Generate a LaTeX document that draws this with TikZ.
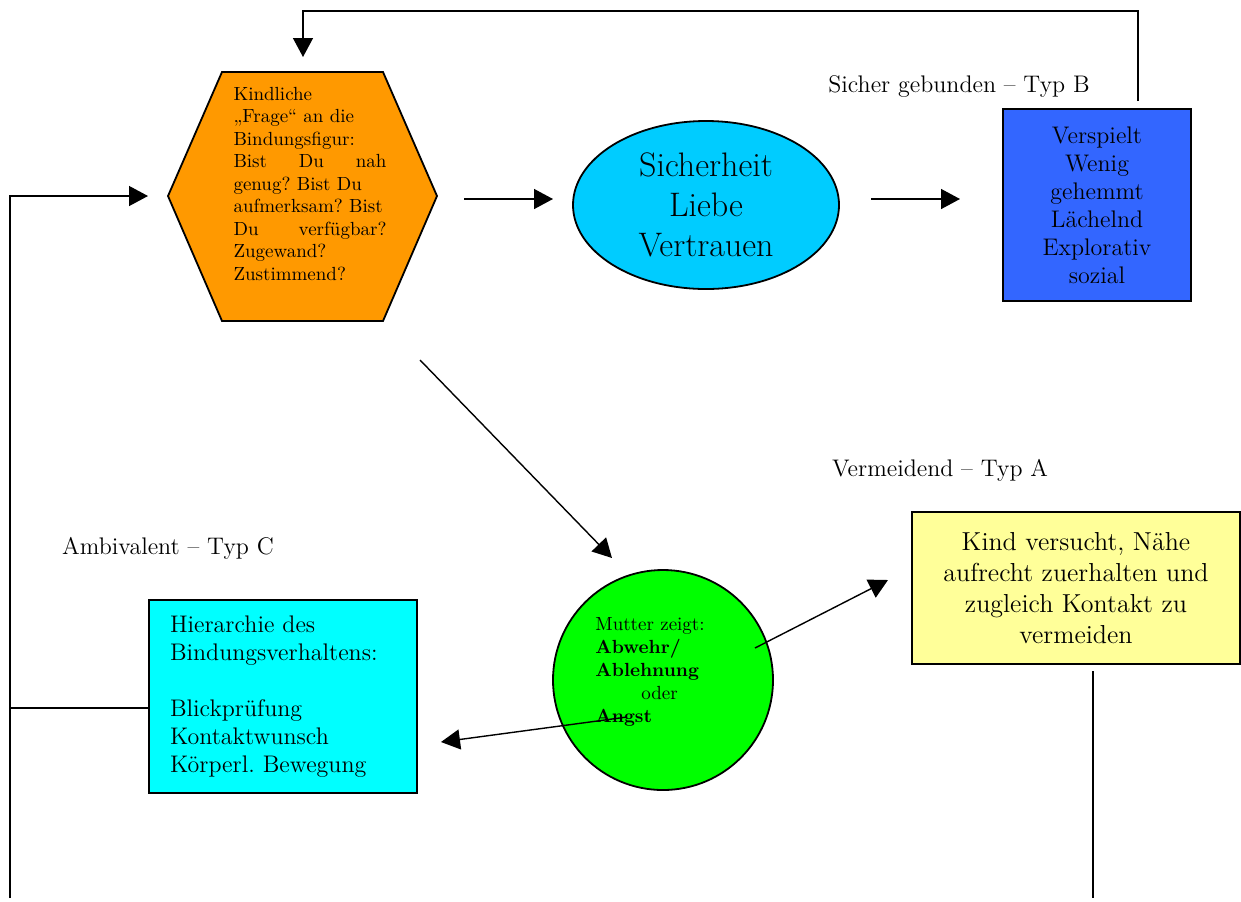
\documentclass[tikz,border=0pt]{standalone}
\usepackage{fontspec}
\usetikzlibrary{arrows.meta,shapes.geometric}
\definecolor{hexorange}{HTML}{FF9900}
\definecolor{ellblue}{HTML}{00CCFF}
\definecolor{boxblue}{HTML}{3366FF}
\definecolor{circgreen}{HTML}{00FF00}
\definecolor{boxcyan}{HTML}{00FFFF}
\definecolor{boxyellow}{HTML}{FFFF99}
\frenchspacing
\begin{document}
\begin{tikzpicture}[x=0.5pt,y=-0.5pt,line width=0.7pt,
  pfeil/.style={-{Triangle[length=9.5pt,width=10pt]}},
  kasten/.style={draw,line width=0.9pt,rectangle,inner sep=0pt},
  typ/.style={font=\fontsize{12}{14}\selectfont}]
\useasboundingbox (0,0) rectangle (1241,901);
\draw[fill=hexorange,line width=0.9pt] (222,72)--(383,72)--(437,196)--(383,321)--(222,321)--(168,196)--cycle;
\node[text width=76.5pt,align=left,inner sep=0pt,font=\fontsize{9.5}{11.25}\selectfont] (H) at (310,184)
  {Kindliche\\„Frage“ an die\\Bindungsfigur:\\Bist\hspace{\fill}Du\hspace{\fill}nah\\genug? Bist Du\\aufmerksam? Bist\\Du\hspace{\fill}verfügbar?\\Zugewand?\\Zustimmend?};
\node[draw,ellipse,fill=ellblue,line width=0.9pt,minimum width=133pt,minimum height=84pt,inner sep=0pt,
  align=center,font=\fontsize{17}{20}\selectfont] (E) at (706,205) {Sicherheit\\Liebe\\Vertrauen};
\node[kasten,fill=boxblue,minimum width=94pt,minimum height=96pt,align=center,
  font=\fontsize{12}{14}\selectfont] (B) at (1097,205) {Verspielt\\Wenig\\gehemmt\\Lächelnd\\Explorativ\\sozial};
\node[typ] (TB) at (959,87) {Sicher gebunden -- Typ B};
\node[typ] (TA) at (940,470) {Vermeidend -- Typ A};
\node[typ] (TC) at (168,548) {Ambivalent -- Typ C};
\node[draw,circle,fill=circgreen,line width=0.9pt,minimum size=110pt,inner sep=0pt] (M) at (663,680) {};
\node[align=left,inner sep=0pt,font=\fontsize{9.5}{11.5}\selectfont] (MT) at (650,672)
  {Mutter zeigt:\\\textbf{Abwehr/}\\\textbf{Ablehnung}\\\hspace{23pt}oder\\\textbf{Angst}};
\node[kasten,fill=boxcyan,minimum width=134pt,minimum height=96.5pt] (C) at (283,696.5) {};
\node[text width=113pt,align=left,inner sep=0pt,font=\fontsize{12}{14}\selectfont] (CT) at (C)
  {Hierarchie des\\Bindungsverhaltens:\\[14pt]Blickprüfung\\Kontaktwunsch\\Körperl. Bewegung};
\node[kasten,fill=boxyellow,minimum width=164pt,minimum height=76pt,align=center,
  font=\fontsize{13}{15.5}\selectfont] (Y) at (1076,588) {Kind versucht, Nähe\\aufrecht zuerhalten und\\zugleich Kontakt zu\\vermeiden};
\coordinate (lu) at (10,898);
\coordinate (lo) at (10,196);
\coordinate (hexein) at (148,196);
\coordinate (lm) at (10,708);
\coordinate (a1) at (464,199);
\coordinate (a2) at (553,199);
\coordinate (b1) at (871,199);
\coordinate (b2) at (960,199);
\coordinate (r1) at (1138,101);
\coordinate (r2) at (1138,11);
\coordinate (r3) at (303,11);
\coordinate (r4) at (303,57);
\coordinate (d1) at (420,360);
\coordinate (d2) at (612,558);
\coordinate (g1) at (755,648);
\coordinate (g2) at (888,580);
\coordinate (g3) at (627,717);
\coordinate (g4) at (441,742);
\coordinate (v1) at (1093,671);
\coordinate (v2) at (1093,898);
\draw[pfeil] (lu)--(lo)--(hexein);
\draw (lm)--(lm-|C.west);
\draw[pfeil] (a1)--(a2);
\draw[pfeil] (b1)--(b2);
\draw[pfeil] (r1)--(r2)--(r3)--(r4);
\draw[pfeil] (d1)--(d2);
\draw[pfeil] (g1)--(g2);
\draw[pfeil] (g3)--(g4);
\draw (v1)--(v2);
\end{tikzpicture}
\end{document}
